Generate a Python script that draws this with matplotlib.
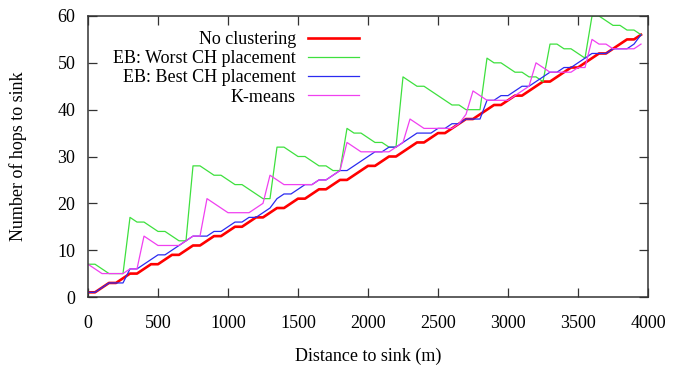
import matplotlib
matplotlib.use("Agg")
import matplotlib.pyplot as plt

# distance to sink, one sample every 50 m
distance = [0, 50, 100, 150, 200, 250, 300, 350, 400, 450,
            500, 550, 600, 650, 700, 750, 800, 850, 900, 950,
            1000, 1050, 1100, 1150, 1200, 1250, 1300, 1350, 1400, 1450,
            1500, 1550, 1600, 1650, 1700, 1750, 1800, 1850, 1900, 1950,
            2000, 2050, 2100, 2150, 2200, 2250, 2300, 2350, 2400, 2450,
            2500, 2550, 2600, 2650, 2700, 2750, 2800, 2850, 2900, 2950,
            3000, 3050, 3100, 3150, 3200, 3250, 3300, 3350, 3400, 3450,
            3500, 3550, 3600, 3650, 3700, 3750, 3800, 3850, 3900, 3950]

no_clustering = [1, 1, 2, 3, 3, 4, 5, 5, 6, 7,
                 7, 8, 9, 9, 10, 11, 11, 12, 13, 13,
                 14, 15, 15, 16, 17, 17, 18, 19, 19, 20,
                 21, 21, 22, 23, 23, 24, 25, 25, 26, 27,
                 28, 28, 29, 30, 30, 31, 32, 33, 33, 34,
                 35, 35, 36, 37, 38, 38, 39, 40, 41, 41,
                 42, 43, 43, 44, 45, 46, 46, 47, 48, 49,
                 49, 50, 51, 52, 52, 53, 54, 55, 55, 56]

eb_worst = [7, 7, 6, 5, 5, 5, 17, 16, 16, 15,
            14, 14, 13, 12, 12, 28, 28, 27, 26, 26,
            25, 24, 24, 23, 22, 21, 21, 32, 32, 31,
            30, 30, 29, 28, 28, 27, 27, 36, 35, 35,
            34, 33, 33, 32, 32, 47, 46, 45, 45, 44,
            43, 42, 41, 41, 40, 40, 40, 51, 50, 50,
            49, 48, 48, 47, 47, 46, 54, 54, 53, 53,
            52, 51, 60, 60, 59, 58, 58, 57, 57, 56]

eb_best = [1, 1, 2, 3, 3, 3, 6, 6, 7, 8,
           9, 9, 10, 11, 12, 13, 13, 13, 14, 14,
           15, 16, 16, 17, 17, 18, 19, 21, 22, 22,
           23, 24, 24, 25, 25, 26, 27, 27, 28, 29,
           30, 31, 31, 32, 32, 33, 34, 35, 35, 35,
           36, 36, 37, 37, 38, 38, 38, 42, 42, 43,
           43, 44, 45, 45, 46, 47, 48, 48, 49, 49,
           50, 51, 52, 52, 52, 53, 53, 53, 54, 56]

kmeans = [7, 6, 5, 5, 5, 5, 6, 6, 13, 12,
          11, 11, 11, 11, 12, 13, 13, 21, 20, 19,
          18, 18, 18, 18, 19, 20, 26, 25, 24, 24,
          24, 24, 24, 25, 25, 26, 27, 33, 32, 31,
          31, 31, 31, 31, 32, 33, 38, 37, 36, 36,
          36, 36, 36, 37, 39, 44, 43, 42, 42, 42,
          42, 43, 44, 45, 50, 49, 48, 48, 48, 48,
          49, 49, 55, 54, 54, 53, 53, 53, 53, 54]

plt.rcParams['font.family'] = ['Liberation Serif', 'DejaVu Serif']
plt.rcParams['font.size'] = 13

fig = plt.figure(figsize=(6.77, 3.71), dpi=100)
ax = fig.add_axes([88 / 677, 1 - 297 / 371, 560 / 677, 281 / 371])

ax.plot(distance, no_clustering, color='#ff0000', lw=1.9, label='No clustering')
ax.plot(distance, eb_worst, color='#3ee03e', lw=0.9, label='EB: Worst CH placement')
ax.plot(distance, eb_best, color='#2b2bf0', lw=0.9, label='EB: Best CH placement')
ax.plot(distance, kmeans, color='#f040f0', lw=0.9, label='K-means')

ax.set_xlim(0, 4000)
ax.set_ylim(0, 60)
ax.set_xticks(range(0, 4001, 500))
ax.set_yticks(range(0, 61, 10))

ax.tick_params(direction='in', length=6.5, width=0.9, color='#333333',
               top=True, right=True)
ax.tick_params(axis='x', pad=13)
ax.tick_params(axis='y', pad=9)
for sp in ax.spines.values():
    sp.set_linewidth(1.1)
    sp.set_color('#333333')

fig.text(18 / 677, 1 - 156 / 371, 'Number of hops to sink', rotation=90,
         ha='center', va='center')
fig.text(368 / 677, 1 - 356 / 371, 'Distance to sink (m)', ha='center', va='center')

ax.legend(loc='upper right', bbox_to_anchor=((359 - 88) / 560, (297 - 31) / 281),
          markerfirst=False, frameon=False, handlelength=2.8, handletextpad=0.7,
          labelspacing=0.12, borderpad=0, borderaxespad=0)

fig.savefig('out.png', dpi=100)
